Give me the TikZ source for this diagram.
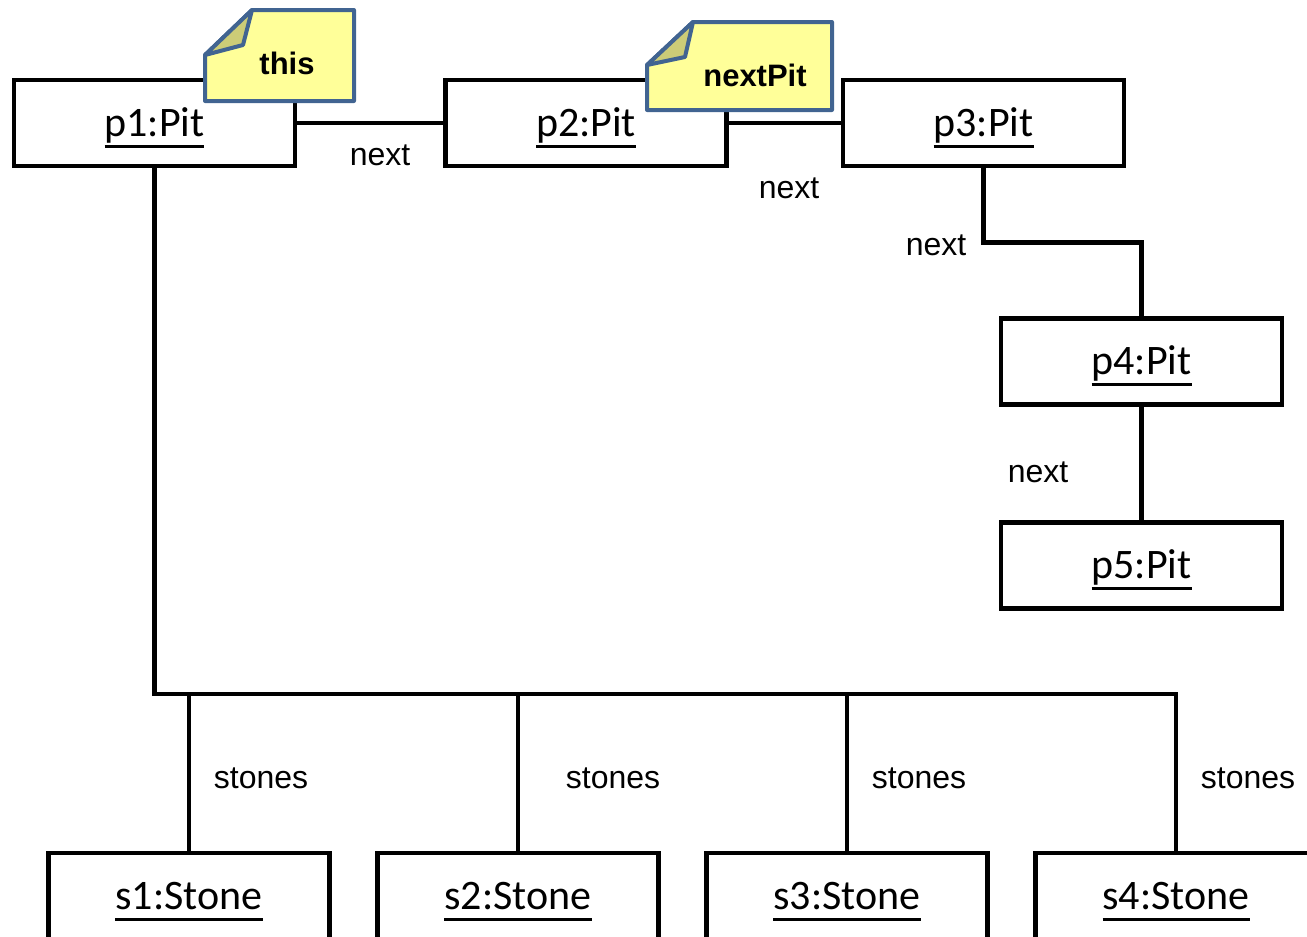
\documentclass[tikz,border=0pt]{standalone}
\usepackage{fontspec}
\setmainfont{Liberation Sans}
\newfontfamily\calib{Carlito}
\definecolor{notefill}{RGB}{255,255,153}
\definecolor{noteline}{RGB}{65,100,145}
\definecolor{foldfill}{RGB}{204,204,119}
\newcommand\objul[1]{\leavevmode\setbox0=\hbox{#1}\rlap{\raisebox{-11.5pt}{\rule{\wd0}{3pt}}}\box0}
\begin{document}
\begin{tikzpicture}[x=1pt,y=-1pt,line width=4.8pt,
  obj/.style={draw=black,fill=white,minimum width=281pt,minimum height=86pt,inner sep=0pt,
    text height=32pt,text depth=6pt,font=\calib\fontsize{42}{50}\selectfont},
  lbl/.style={font=\fontsize{32}{38}\selectfont,inner sep=0pt},
  notebody/.style={draw=noteline,fill=notefill,line width=4pt,line join=round},
  notefold/.style={draw=noteline,fill=foldfill,line width=4pt,line join=round},
  notetext/.style={font=\bfseries\fontsize{31}{36}\selectfont,inner sep=0pt}]
\useasboundingbox (0,0) rectangle (1307,937);
% object boxes
\node[obj] (p1) at (154.5,123) {\objul{p1:Pit}};
\node[obj] (p2) at (586,123) {\objul{p2:Pit}};
\node[obj] (p3) at (983.5,123) {\objul{p3:Pit}};
\node[obj] (p4) at (1141.5,361.5) {\objul{p4:Pit}};
\node[obj] (p5) at (1141.5,565.5) {\objul{p5:Pit}};
\node[obj] (s1) at (189,896) {\objul{s1:Stone}};
\node[obj] (s2) at (518,896) {\objul{s2:Stone}};
\node[obj] (s3) at (847,896) {\objul{s3:Stone}};
\node[obj] (s4) at (1176,896) {\objul{s4:Stone}};
% connectors
\draw (p1.east) -- (p2.west);
\draw (p2.east) -- (p3.west);
\draw (p3.south) -- ++(0,74) -| (p4.north);
\draw (p4.south) -- (p5.north);
\coordinate (bus) at (155,694);
\draw (p1.south) |- (s4.north |- bus) -- (s4.north);
\draw (s1.north |- bus) -- (s1.north);
\draw (s2.north |- bus) -- (s2.north);
\draw (s3.north |- bus) -- (s3.north);
% labels
\node[lbl] (l12) at (380,155) {next};
\node[lbl] (l23) at (789,188) {next};
\node[lbl] (l34) at (936,245) {next};
\node[lbl] (l45) at (1038,472) {next};
\node[lbl] (ls1) at (261,778) {stones};
\node[lbl] (ls2) at (613,778) {stones};
\node[lbl] (ls3) at (919,778) {stones};
\node[lbl] (ls4) at (1248,778) {stones};
% notes
\draw[notebody] (205,55) -- (252,10) -- (354,10) -- (354,101) -- (205,101) -- cycle;
\draw[notefold] (205,55) -- (252,10) -- (243,45) -- cycle;
\node[notetext] (thisnote) at (287,63) {this};
\draw[notebody] (647,65) -- (693,22) -- (832,22) -- (832,110) -- (647,110) -- cycle;
\draw[notefold] (647,65) -- (693,22) -- (685,57) -- cycle;
\node[notetext] (nextpitnote) at (755,75) {nextPit};
\end{tikzpicture}
\end{document}
